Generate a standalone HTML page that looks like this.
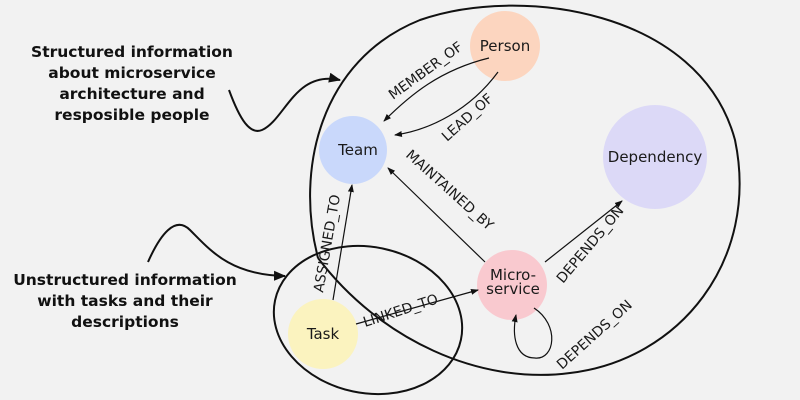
<!DOCTYPE html>
<html><head><meta charset="utf-8"><style>
html,body{margin:0;padding:0;background:#f2f2f2;}
svg{display:block}
text{font-family:"DejaVu Sans","Liberation Sans",sans-serif;fill:#1a1a1a}
.b{font-family:"DejaVu Sans","Liberation Sans",sans-serif;font-weight:bold;font-size:15.5px;fill:#111}
.e{font-size:14px}
.n{font-size:15px}
</style></head><body>
<svg width="800" height="400" viewBox="0 0 800 400" xmlns="http://www.w3.org/2000/svg">
<defs>
<marker id="a" markerWidth="8" markerHeight="8" refX="7" refY="4" orient="auto" markerUnits="userSpaceOnUse"><path d="M0,1 L8,4 L0,7 Z" fill="#111"/></marker>
<marker id="A" markerWidth="12" markerHeight="12" refX="11" refY="6" orient="auto" markerUnits="userSpaceOnUse"><path d="M0,1 L12,6 L0,11 Z" fill="#111"/></marker>
</defs>
<rect width="800" height="400" fill="#f2f2f2"/>
<path d="M318,258 C295,170 320,60 420,20 C520,-15 700,10 735,140 C760,260 680,360 570,373 C480,385 380,340 318,258" fill="none" stroke="#111" stroke-width="2"/>
<ellipse cx="368" cy="320" rx="95" ry="73" transform="rotate(12 368 320)" fill="none" stroke="#111" stroke-width="2"/>
<circle cx="505" cy="46" r="35" fill="#fcd5bf"/>
<circle cx="353" cy="150" r="34" fill="#c9d8fb"/>
<circle cx="655" cy="157" r="52" fill="#dcd9f7"/>
<circle cx="512" cy="285" r="35" fill="#f9c9cf"/>
<circle cx="323" cy="334" r="35" fill="#fbf3bf"/>
<text class="n" x="505" y="51" text-anchor="middle">Person</text>
<text class="n" x="358" y="155" text-anchor="middle">Team</text>
<text class="n" x="655" y="162" text-anchor="middle">Dependency</text>
<text class="n" x="513" y="280" text-anchor="middle">Micro-</text>
<text class="n" x="513" y="294" text-anchor="middle">service</text>
<text class="n" x="323" y="339" text-anchor="middle">Task</text>
<g fill="none" stroke="#111" stroke-width="1.2">
<path d="M489,58 C440,70 410,95 384,121" marker-end="url(#a)"/>
<path d="M498,72 C470,110 430,130 395,135" marker-end="url(#a)"/>
<path d="M485,262 L388,168" marker-end="url(#a)"/>
<path d="M545,262 L622,201" marker-end="url(#a)"/>
<path d="M333,300 L352,185" marker-end="url(#a)"/>
<path d="M356,324 L478,290" marker-end="url(#a)"/>
<path d="M534,308 C560,325 555,360 535,358 C515,358 512,335 516,315" marker-end="url(#a)"/>
</g>
<text class="e" transform="translate(393,100) rotate(-36)">MEMBER_OF</text>
<text class="e" transform="translate(447,142) rotate(-42)">LEAD_OF</text>
<text class="e" transform="translate(405,156) rotate(42)">MAINTAINED_BY</text>
<text class="e" transform="translate(563,284) rotate(-50)">DEPENDS_ON</text>
<text class="e" transform="translate(562,370) rotate(-42)">DEPENDS_ON</text>
<text class="e" transform="translate(323,293) rotate(-80)">ASSIGNED_TO</text>
<text class="e" transform="translate(365,327) rotate(-18)">LINKED_TO</text>
<text class="b" x="132" y="57" text-anchor="middle">Structured information</text>
<text class="b" x="132" y="78" text-anchor="middle">about microservice</text>
<text class="b" x="132" y="99" text-anchor="middle">architecture and</text>
<text class="b" x="132" y="120" text-anchor="middle">resposible people</text>
<text class="b" x="125" y="285" text-anchor="middle">Unstructured information</text>
<text class="b" x="125" y="306" text-anchor="middle">with tasks and their</text>
<text class="b" x="125" y="327" text-anchor="middle">descriptions</text>
<g fill="none" stroke="#111" stroke-width="2">
<path d="M229,90 C240,120 250,135 262,130 C285,120 295,70 340,80" marker-end="url(#A)"/>
<path d="M148,262 C160,235 175,215 190,230 C210,250 230,275 285,276" marker-end="url(#A)"/>
</g>
</svg>
</body></html>
